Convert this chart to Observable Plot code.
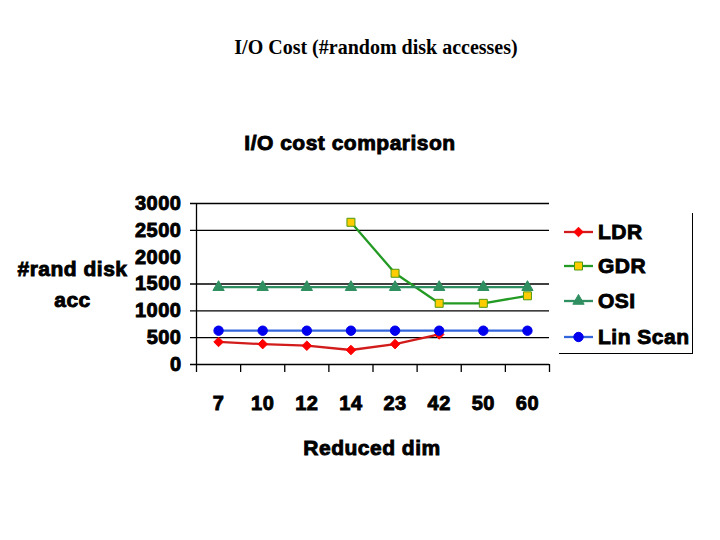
<!DOCTYPE html>
<html>
<head>
<meta charset="utf-8">
<script src="https://cdn.jsdelivr.net/npm/d3@7"></script>
<script src="https://cdn.jsdelivr.net/npm/@observablehq/plot@0.6"></script>
<style>
  html, body { margin: 0; padding: 0; background: #fff; }
  #wrap { position: relative; width: 720px; height: 540px; overflow: hidden; }
  #chart { position: absolute; left: 0; top: 0; }
  .t { position: absolute; white-space: nowrap; text-align: center; line-height: 1; color: #000; }
  .heavy { font-family: "Liberation Sans", Arial, sans-serif; font-weight: bold; font-size: 21px; letter-spacing: 0.5px; -webkit-text-stroke: 0.9px #000; }
  #chart svg text { stroke: #000; stroke-width: 0.9px; letter-spacing: 0.5px; }
  #legend { position: absolute; left: 559px; top: 213px; width: 133px; height: 140px;
            border-right: 1.4px solid #000; border-bottom: 1.4px solid #000; box-sizing: content-box; }
  .row { position: absolute; left: 5px; height: 22px; display: flex; align-items: center; }
  .row span { margin-left: 5px; }
</style>
</head>
<body>
<div id="wrap">
  <div id="chart"></div>
  <div class="t" id="toptitle" style="left:176px; width:400px; top:37px; font-family:'Liberation Serif','Times New Roman',serif; font-weight:bold; font-size:20px;"></div>
  <div class="t heavy" id="ctitle" style="left:150px; width:400px; top:132px;"></div>
  <div class="t heavy" id="ylab1" style="left:0px; width:145px; top:258px;"></div>
  <div class="t heavy" id="ylab2" style="left:0px; width:145px; top:289px;"></div>
  <div class="t heavy" id="xlab" style="left:172px; width:400px; top:437px;"></div>
  <div id="legend"></div>
</div>
<script>
// ---- data ----
const pageTitle = "I/O Cost (#random disk accesses)";
const chartTitle = "I/O cost comparison";
const yLabelLines = ["#rand disk", "acc"];
const xLabel = "Reduced dim";
const dims = ["7", "10", "12", "14", "23", "42", "50", "60"];
const yTicks = [0, 500, 1000, 1500, 2000, 2500, 3000];
const gridTicks = [0, 500, 1000, 1500, 2500, 3000];
const seriesNames = ["LDR", "GDR", "OSI", "Lin Scan"];
const ldr = [420, 380, 350, 270, 380, 560, null, null];
const gdr = [null, null, null, 2650, 1700, 1140, 1140, 1280];
const osi = [1440, 1440, 1440, 1440, 1440, 1440, 1440, 1440];
const linScan = [630, 630, 630, 630, 630, 630, 630, 630];
const seriesValues = [ldr, gdr, osi, linScan];
const lineColors = ["#d21c1c", "#239a23", "#2f8f60", "#3366dd"];
const markFill = ["#ff0000", "#ffcc00", "#2f8f60", "#0000ee"];
const markStroke = ["#ff0000", "#4c9a10", "#2f8f60", "#0000ee"];
const symbols = ["diamond2", "square", "triangle", "circle"];
const radii = [4.3, 4.5, 4.2, 4.7];

// ---- table ----
const rows = [];
seriesNames.forEach((s, k) => {
  seriesValues[k].forEach((v, i) => rows.push({series: s, k, pos: i + 0.5, dim: dims[i], value: v}));
});

const marks = [
  Plot.ruleY(gridTicks, {insetLeft: -6, stroke: "#000", strokeWidth: 1.3}),
  Plot.ruleX([0], {stroke: "#000", strokeWidth: 1.3}),
  Plot.axisX({ticks: d3.range(0, dims.length + 1), tickSize: 8, tickFormat: () => "", strokeWidth: 1.3, label: null}),
  Plot.axisX({ticks: dims.map((d, i) => i + 0.5), tickSize: 0, tickPadding: 31, tickFormat: v => dims[Math.floor(v)], label: null}),
  Plot.axisY({ticks: yTicks, tickSize: 0, tickPadding: 15, tickFormat: d => String(d), label: null})
];
seriesNames.forEach((s, k) => {
  const data = rows.filter(r => r.k === k);
  marks.push(Plot.line(data, {x: "pos", y: "value", stroke: lineColors[k], strokeWidth: 2.3}));
});
seriesNames.forEach((s, k) => {
  const data = rows.filter(r => r.k === k && r.value != null);
  marks.push(Plot.dot(data, {x: "pos", y: "value", symbol: () => symbols[k], r: radii[k],
    fill: markFill[k], stroke: markStroke[k], strokeWidth: 1}));
});

const plot = Plot.plot({
  width: 720, height: 540,
  marginLeft: 196, marginRight: 171, marginTop: 203, marginBottom: 176,
  x: {type: "linear", domain: [0, dims.length]},
  y: {domain: [0, 3000]},
  symbol: {type: "identity"},
  style: {fontFamily: "'Liberation Sans', Arial, sans-serif", fontSize: "20px", fontWeight: "bold", color: "#000", background: "transparent"},
  marks
});
document.getElementById("chart").appendChild(plot);

document.getElementById("toptitle").textContent = pageTitle;
document.getElementById("ctitle").textContent = chartTitle;
document.getElementById("ylab1").textContent = yLabelLines[0];
document.getElementById("ylab2").textContent = yLabelLines[1];
document.getElementById("xlab").textContent = xLabel;

// ---- legend ----
const legend = document.getElementById("legend");
const symMap = {diamond2: d3.symbolDiamond2, square: d3.symbolSquare, triangle: d3.symbolTriangle, circle: d3.symbolCircle};
const legendTops = [8, 42, 77, 113];
seriesNames.forEach((s, k) => {
  const row = document.createElement("div");
  row.className = "row";
  row.style.top = legendTops[k] + "px";
  const ns = "http://www.w3.org/2000/svg";
  const sv = document.createElementNS(ns, "svg");
  sv.setAttribute("width", 29); sv.setAttribute("height", 14);
  const ln = document.createElementNS(ns, "line");
  ln.setAttribute("x1", 0); ln.setAttribute("x2", 29); ln.setAttribute("y1", 7); ln.setAttribute("y2", 7);
  ln.setAttribute("stroke", lineColors[k]); ln.setAttribute("stroke-width", 2.3);
  sv.appendChild(ln);
  const p = document.createElementNS(ns, "path");
  p.setAttribute("d", d3.symbol(symMap[symbols[k]], Math.PI * radii[k] * radii[k])());
  p.setAttribute("transform", "translate(14.5,7)");
  p.setAttribute("fill", markFill[k]); p.setAttribute("stroke", markStroke[k]);
  sv.appendChild(p);
  row.appendChild(sv);
  const sp = document.createElement("span");
  sp.className = "heavy";
  sp.textContent = s;
  row.appendChild(sp);
  legend.appendChild(row);
});
</script>
</body>
</html>
